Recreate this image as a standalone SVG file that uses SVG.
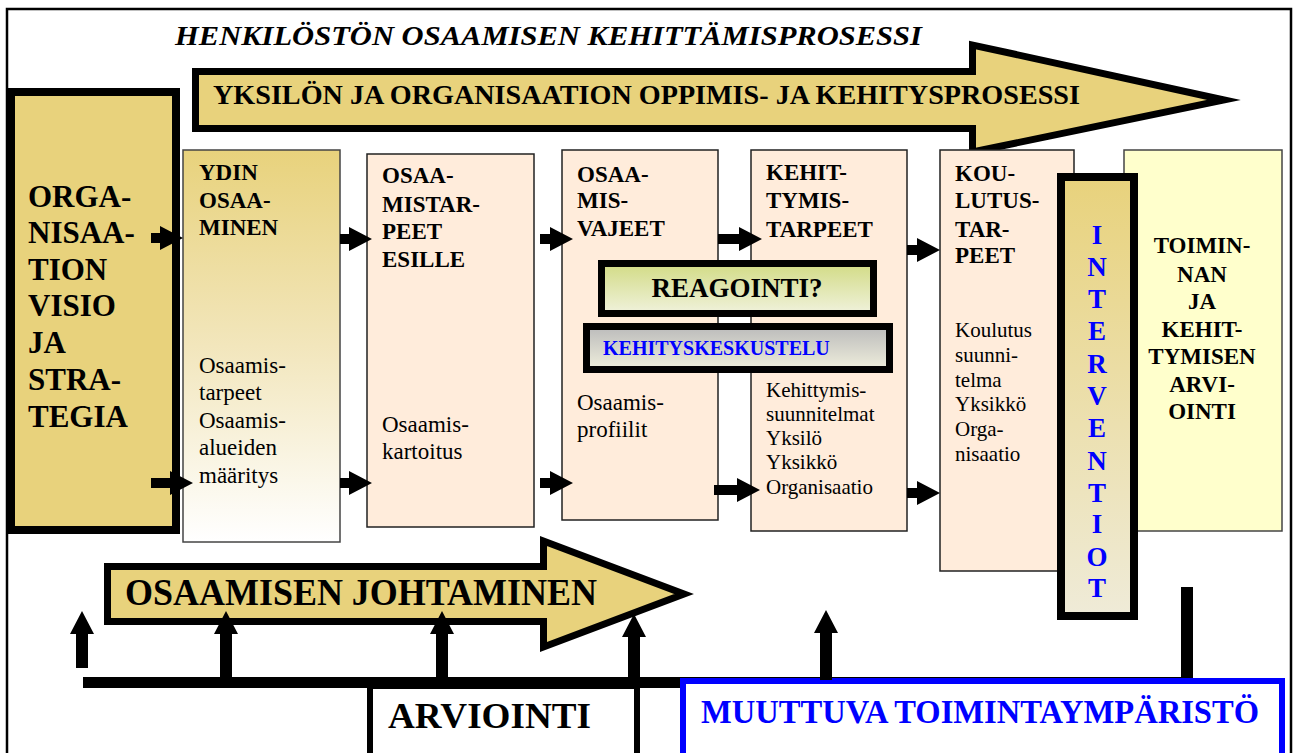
<svg xmlns="http://www.w3.org/2000/svg" width="1297" height="753" viewBox="0 0 1297 753" font-family="'Liberation Serif', 'Times New Roman', serif">
<defs>
<linearGradient id="gYdin" x1="0" y1="0" x2="0" y2="1"><stop offset="0" stop-color="#E8D27C"/><stop offset="0.5" stop-color="#F2E6BC"/><stop offset="1" stop-color="#FFFFFF"/></linearGradient>
<linearGradient id="gReag" x1="0" y1="0" x2="0" y2="1"><stop offset="0" stop-color="#D2DB85"/><stop offset="1" stop-color="#F0F2DC"/></linearGradient>
<linearGradient id="gKeh" x1="0" y1="0" x2="0" y2="1"><stop offset="0" stop-color="#BBBBBB"/><stop offset="1" stop-color="#EFEEDC"/></linearGradient>
<linearGradient id="gInt" x1="0" y1="0" x2="0" y2="1"><stop offset="0" stop-color="#E8D27C"/><stop offset="1" stop-color="#EFEBD8"/></linearGradient>
<style>
text{font-family:'Liberation Serif','Times New Roman',serif;fill:#000}
.b{font-weight:bold}
.hd{font-weight:bold;font-size:23px}
.bd{font-size:23px}
.sm{font-size:21px}
.peach{fill:#FFECDB;stroke:#222;stroke-width:1.5}
.khaki{fill:#E8D27C;stroke:#000}
.blue{fill:#0000FF}
.arr{fill:#000}
</style>
</defs>
<rect width="1297" height="753" fill="#fff"/>
<path d="M7 753 V9 H1291 V753" fill="none" stroke="#000" stroke-width="2.5"/>

<g id="title"><text x="175" y="45" class="b" font-style="italic" font-size="28" textLength="747" lengthAdjust="spacingAndGlyphs">HENKILÖSTÖN OSAAMISEN KEHITTÄMISPROSESSI</text></g>

<g id="top-arrow">
<polygon class="khaki" stroke-width="7" stroke-miterlimit="10" points="195.5,71.5 972.5,71.5 972.5,45 1224,100 972.5,152 972.5,128.5 195.5,128.5"/>
<text x="213" y="104" class="b" font-size="27" textLength="867" lengthAdjust="spacingAndGlyphs">YKSILÖN JA ORGANISAATION OPPIMIS- JA KEHITYSPROSESSI</text>
</g>

<g id="visio">
<rect x="11" y="92" width="165" height="438" class="khaki" stroke-width="8"/>
<g class="b" font-size="31">
<text x="28" y="207">ORGA-</text><text x="28" y="243">NISAA-</text><text x="28" y="280">TION</text><text x="28" y="316">VISIO</text><text x="28" y="353">JA</text><text x="28" y="390">STRA-</text><text x="28" y="427">TEGIA</text>
</g>
</g>

<g id="ydin">
<rect x="183" y="150" width="157" height="392" fill="url(#gYdin)" stroke="#444" stroke-width="1.5"/>
<text x="199" y="180" class="hd">YDIN</text><text x="199" y="208" class="hd">OSAA-</text><text x="199" y="235" class="hd">MINEN</text>
<text x="199" y="373" class="bd">Osaamis-</text><text x="199" y="400" class="bd">tarpeet</text><text x="199" y="428" class="bd">Osaamis-</text><text x="199" y="455" class="bd">alueiden</text><text x="199" y="483" class="bd">määritys</text>
</g>

<g id="osaamistarpeet">
<rect x="367" y="154" width="167" height="373" class="peach"/>
<text x="382" y="183" class="hd">OSAA-</text><text x="382" y="212" class="hd">MISTAR-</text><text x="382" y="239" class="hd">PEET</text><text x="382" y="267" class="hd">ESILLE</text>
<text x="382" y="432" class="bd">Osaamis-</text><text x="382" y="459" class="bd">kartoitus</text>
</g>

<g id="osaamisvajeet">
<rect x="562" y="150" width="156" height="370" class="peach"/>
<text x="577" y="182" class="hd">OSAA-</text><text x="577" y="208" class="hd">MIS-</text><text x="577" y="236" class="hd">VAJEET</text>
<text x="577" y="410" class="bd">Osaamis-</text><text x="577" y="437" class="bd">profiilit</text>
</g>

<g id="kehittymistarpeet">
<rect x="751" y="150" width="156" height="381" class="peach"/>
<text x="766" y="180" class="hd">KEHIT-</text><text x="766" y="208" class="hd">TYMIS-</text><text x="766" y="237" class="hd">TARPEET</text>
<text x="766" y="397" class="sm">Kehittymis-</text><text x="766" y="421" class="sm">suunnitelmat</text><text x="766" y="445" class="sm">Yksilö</text><text x="766" y="469" class="sm">Yksikkö</text><text x="766" y="494" class="sm">Organisaatio</text>
</g>

<g id="koulutustarpeet">
<rect x="940" y="150" width="134" height="421" class="peach"/>
<text x="955" y="181" class="hd">KOU-</text><text x="955" y="208" class="hd">LUTUS-</text><text x="955" y="237" class="hd">TAR-</text><text x="955" y="263" class="hd">PEET</text>
<text x="955" y="337" class="sm">Koulutus</text><text x="955" y="362" class="sm">suunni-</text><text x="955" y="387" class="sm">telma</text><text x="955" y="411" class="sm">Yksikkö</text><text x="955" y="436" class="sm">Orga-</text><text x="955" y="461" class="sm">nisaatio</text>
</g>

<g id="toiminnan">
<rect x="1124" y="150" width="158" height="381" fill="#FFFFCC" stroke="#444" stroke-width="1.5"/>
<g text-anchor="middle">
<text x="1202" y="253" class="hd">TOIMIN-</text><text x="1202" y="282" class="hd">NAN</text><text x="1202" y="309" class="hd">JA</text><text x="1202" y="337" class="hd">KEHIT-</text><text x="1202" y="364" class="hd">TYMISEN</text><text x="1202" y="392" class="hd">ARVI-</text><text x="1202" y="419" class="hd">OINTI</text>
</g>
</g>

<g id="interventiot">
<rect x="1061" y="177" width="73" height="439" fill="url(#gInt)" stroke="#000" stroke-width="8"/>
<g font-size="27" text-anchor="middle">
<text x="1097" y="244" class="b blue">I</text><text x="1097" y="276" class="b blue">N</text><text x="1097" y="308" class="b blue">T</text><text x="1097" y="340" class="b blue">E</text><text x="1097" y="373" class="b blue">R</text><text x="1097" y="405" class="b blue">V</text><text x="1097" y="437" class="b blue">E</text><text x="1097" y="470" class="b blue">N</text><text x="1097" y="502" class="b blue">T</text><text x="1097" y="533" class="b blue">I</text><text x="1097" y="566" class="b blue">O</text><text x="1097" y="597" class="b blue">T</text>
</g>
</g>

<g id="connectors">
<path class="arr" d="M151 233H160V226L183 238L160 250V243H151Z"/>
<path class="arr" d="M151 478H170V471L193 483L170 495V488H151Z"/>
<path class="arr" d="M340 234H349V227L372 239L349 251V244H340Z"/>
<path class="arr" d="M340 478H349V471L372 483L349 495V488H340Z"/>
<path class="arr" d="M540 234H550V227L573 239L550 251V244H540Z"/>
<path class="arr" d="M540 478H550V471L573 483L550 495V488H540Z"/>
<path class="arr" d="M718 234H739V227L762 239L739 251V244H718Z"/>
<path class="arr" d="M714 485H737V478L760 490L737 502V495H714Z"/>
<path class="arr" d="M907 245H917V238L940 250L917 262V255H907Z"/>
<path class="arr" d="M907 488H917V481L940 493L917 505V498H907Z"/>
</g>

<g id="reagointi">
<rect x="601.5" y="263.5" width="272" height="50" fill="url(#gReag)" stroke="#000" stroke-width="7"/>
<text x="737" y="297" class="b" font-size="27" text-anchor="middle">REAGOINTI?</text>
</g>

<g id="kehityskeskustelu">
<rect x="586.5" y="326.5" width="303" height="43" fill="url(#gKeh)" stroke="#000" stroke-width="7"/>
<text x="603" y="355" class="b blue" font-size="20">KEHITYSKESKUSTELU</text>
</g>

<g id="johtaminen">
<polygon class="khaki" stroke-width="7" stroke-miterlimit="10" points="107.5,566.5 543.5,566.5 543.5,541 684,594 543.5,647 543.5,621.5 107.5,621.5"/>
<text x="125" y="605" class="b" font-size="37" textLength="472" lengthAdjust="spacingAndGlyphs">OSAAMISEN JOHTAMINEN</text>
</g>

<g id="base-lines">
<rect x="83" y="677" width="1110" height="11" fill="#000"/>
<rect x="1181" y="587" width="12" height="101" fill="#000"/>
</g>

<g id="arviointi">
<rect x="370" y="686" width="267" height="90" fill="#fff" stroke="#000" stroke-width="6"/>
<text x="388" y="728" class="b" font-size="35" textLength="203" lengthAdjust="spacingAndGlyphs">ARVIOINTI</text>
</g>

<g id="muuttuva">
<rect x="683" y="681" width="599" height="90" fill="#fff" stroke="#0000FF" stroke-width="6"/>
<text x="701" y="723" class="b blue" font-size="33" textLength="558" lengthAdjust="spacingAndGlyphs">MUUTTUVA TOIMINTAYMPÄRISTÖ</text>
</g>

<g id="up-arrows">
<path class="arr" d="M76 668V634H70L82 611L94 634H88V668Z"/>
<path class="arr" d="M220 688V634H214L226 611L238 634H232V688Z"/>
<path class="arr" d="M436 688V634H430L442 611L454 634H448V688Z"/>
<path class="arr" d="M628 688V637H622L634 614L646 637H640V688Z"/>
<path class="arr" d="M820 680V633H814L826 610L838 633H832V680Z"/>
</g>
</svg>
